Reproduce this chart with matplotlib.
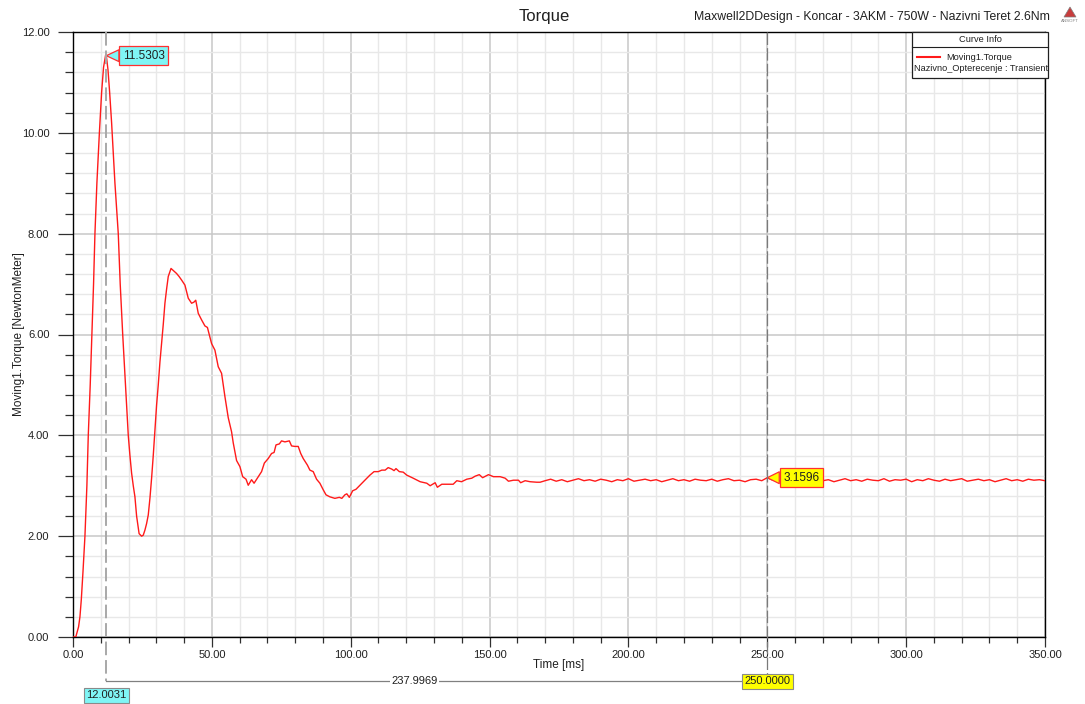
import numpy as np
import matplotlib
matplotlib.use('Agg')
import matplotlib.pyplot as plt
from matplotlib.ticker import MultipleLocator, FormatStrFormatter
from matplotlib.transforms import blended_transform_factory
from matplotlib.lines import Line2D
from matplotlib.patches import Rectangle, Polygon

plt.rcParams['font.family'] = ['Liberation Sans', 'DejaVu Sans']

# ---------------- data (time in ms, torque in N*m) ----------------
t_rise1 = [0, 1.0, 2.0, 2.5, 3.0, 3.6, 4.3, 5.0, 5.5, 6.2, 6.8, 7.4, 7.9, 8.6, 9.5, 10.3, 11.0, 11.8, 12.0]
T_rise1 = [0, 0.0, 0.2, 0.4, 0.75, 1.3, 2.0, 3.0, 4.0, 5.0, 6.0, 7.0, 8.0, 9.0, 10.0, 10.8, 11.3, 11.56, 11.53]

t_fall1 = [12.6, 13.2, 13.9, 14.5, 15.1, 15.7, 16.3, 17.0, 17.9, 18.6, 19.1, 19.9, 20.5, 21.1, 21.7, 22.3, 22.9, 23.8, 24.7]
T_fall1 = [11.25, 10.8, 10.2, 9.6, 9.0, 8.5, 8.0, 7.0, 6.0, 5.3, 4.8, 4.0, 3.6, 3.25, 3.0, 2.78, 2.4, 2.05, 2.0]

t_rise2 = [25.3, 25.9, 26.5, 27.1, 27.7, 28.3, 28.9, 29.5, 30.1, 30.7, 31.3, 31.9, 32.5, 33.1, 33.7, 34.3, 35.3]
T_rise2 = [2.02, 2.12, 2.25, 2.42, 2.75, 3.15, 3.6, 4.1, 4.6, 5.0, 5.45, 5.82, 6.2, 6.62, 6.9, 7.15, 7.31]

t_fall2 = [36.3, 37.3, 38.2, 39.1, 40.3, 41.5, 42.7, 43.5, 44.2, 45.1, 46.3, 47.5, 48.4, 49.9, 51.1, 52.3,
           53.5, 54.7, 55.9, 57.1, 57.7, 58.9, 60.1, 61.1, 62.3, 63.1, 64.3, 65.2, 66.7, 67.9, 68.9, 70.3]
T_fall2 = [7.26, 7.21, 7.15, 7.08, 6.98, 6.72, 6.62, 6.64, 6.68, 6.42, 6.29, 6.17, 6.14, 5.82, 5.69, 5.36,
           5.23, 4.77, 4.35, 4.07, 3.85, 3.50, 3.38, 3.18, 3.13, 3.01, 3.12, 3.05, 3.18, 3.28, 3.45, 3.54]

t_osc = [71.5, 72.4, 73.1, 74.3, 75.1, 76.3, 77.9, 78.7, 79.9, 81.1, 82.0, 82.9, 84.4, 85.3, 86.5, 87.7,
         88.9, 90.1, 91.1, 92.5, 94.3, 95.9, 96.8, 97.9, 98.6, 99.5, 100.7, 101.9, 103.3, 105.1, 106.9,
         108.4, 109.9, 111.2, 112.4, 113.5, 114.8, 115.6, 116.3, 117.5, 118.9, 120.2, 122.5]
T_osc = [3.64, 3.66, 3.81, 3.83, 3.89, 3.87, 3.89, 3.79, 3.78, 3.78, 3.64, 3.54, 3.41, 3.31, 3.28, 3.13,
         3.05, 2.92, 2.82, 2.78, 2.75, 2.77, 2.75, 2.82, 2.84, 2.77, 2.90, 2.93, 3.01, 3.11, 3.21,
         3.28, 3.28, 3.31, 3.31, 3.36, 3.33, 3.30, 3.34, 3.28, 3.27, 3.21, 3.15]

t_settle = [125.0, 127.4, 128.6, 130.4, 131.2, 132.8, 134.6, 136.9, 138.2, 139.9, 141.8, 143.6, 144.8,
            146.3, 147.5, 149.6, 151.4, 153.8, 155.6, 156.8, 158.6, 160.4, 161.2, 162.8, 164.6, 167.0, 168.2]
T_settle = [3.08, 3.05, 3.00, 3.06, 2.97, 3.03, 3.03, 3.03, 3.10, 3.08, 3.13, 3.15, 3.19,
            3.22, 3.16, 3.22, 3.18, 3.18, 3.15, 3.09, 3.11, 3.11, 3.06, 3.10, 3.08, 3.07, 3.07]

t_tail = list(np.arange(170, 351, 2))
T_tail = [3.10, 3.13, 3.09, 3.12, 3.08, 3.11, 3.14, 3.10, 3.12, 3.09,
          3.13, 3.11, 3.08, 3.12, 3.10, 3.14, 3.09, 3.11, 3.13, 3.10,
          3.12, 3.08, 3.11, 3.14, 3.10, 3.12, 3.09, 3.13, 3.11, 3.10,
          3.13, 3.09, 3.12, 3.14, 3.10, 3.11, 3.08, 3.12, 3.13, 3.10,
          3.16, 3.11, 3.09, 3.13, 3.10, 3.12, 3.14, 3.09, 3.11, 3.13,
          3.10, 3.12, 3.08, 3.11, 3.14, 3.10, 3.12, 3.09, 3.13, 3.11,
          3.10, 3.14, 3.09, 3.12, 3.11, 3.13, 3.08, 3.12, 3.10, 3.14,
          3.11, 3.09, 3.13, 3.10, 3.12, 3.14, 3.09, 3.11, 3.13, 3.10,
          3.12, 3.08, 3.11, 3.14, 3.10, 3.12, 3.09, 3.13, 3.11, 3.12,
          3.10]

time_ms = np.array(t_rise1 + t_fall1 + t_rise2 + t_fall2 + t_osc + t_settle + t_tail, dtype=float)
torque = np.array(T_rise1 + T_fall1 + T_rise2 + T_fall2 + T_osc + T_settle + T_tail, dtype=float)

m1_time, m1_value = 12.0031, 11.5303
m2_time, m2_value = 250.0, 3.1596
delta_time = 237.9969

title = "Torque"
subtitle = "Maxwell2DDesign - Koncar - 3AKM - 750W - Nazivni Teret 2.6Nm"
x_label = "Time [ms]"
y_label = "Moving1.Torque [NewtonMeter]"
legend_title = "Curve Info"
legend_curve = "Moving1.Torque"
legend_setup = "Nazivno_Opterecenje : Transient"

# ---------------- figure ----------------
W, H = 1085, 704
fig = plt.figure(figsize=(W / 100, H / 100), dpi=100)
fig.patch.set_facecolor('white')

def fx(px):
    return px / W

def fy(py):
    return 1 - py / H

ax = fig.add_axes([fx(73), fy(637), fx(1045) - fx(73), fy(32) - fy(637)])
ax.set_xlim(0, 350)
ax.set_ylim(0, 12)

ax.xaxis.set_major_locator(MultipleLocator(50))
ax.xaxis.set_minor_locator(MultipleLocator(10))
ax.yaxis.set_major_locator(MultipleLocator(2))
ax.yaxis.set_minor_locator(MultipleLocator(0.4))
ax.xaxis.set_major_formatter(FormatStrFormatter('%.2f'))
ax.yaxis.set_major_formatter(FormatStrFormatter('%.2f'))

ax.grid(which='major', color='#c8c8c8', linewidth=1.1, zorder=0)
ax.grid(which='minor', color='#e8e8e8', linewidth=1.0, zorder=0)
ax.set_axisbelow(True)

ax.tick_params(axis='y', which='major', direction='out', length=11, width=0.9, color='#303030',
               labelsize=8, pad=6, labelcolor='#202020')
ax.tick_params(axis='y', which='minor', direction='out', length=6, width=0.9, color='#303030')
ax.tick_params(axis='x', which='major', direction='out', length=7, width=0.9, color='#303030',
               labelsize=8, pad=2, labelcolor='#202020')
ax.tick_params(axis='x', which='minor', direction='out', length=4.5, width=0.9, color='#303030')

for s in ax.spines.values():
    s.set_color('black')
    s.set_linewidth(1.0)

ax.plot(time_ms, torque, color='#ff1a1a', linewidth=1.0, zorder=3)

ax.set_xlabel(x_label, fontsize=8.5, color='#202020')
ax.xaxis.set_label_coords(0.5, -0.036)
ax.set_ylabel(y_label, fontsize=8.5, color='#202020')
ax.yaxis.set_label_coords(-0.049, 0.5)

# marker lines (x in data, y in figure)
btr = blended_transform_factory(ax.transData, fig.transFigure)
l1 = Line2D([m1_time, m1_time], [fy(32), fy(681)], transform=btr, color='#a8a8a8',
            linewidth=1.4, linestyle=(0, (7, 2.5)), clip_on=False, zorder=2)
l2 = Line2D([m2_time, m2_time], [fy(32), fy(674)], transform=btr, color='#7a7a7a',
            linewidth=0.9, linestyle=(0, (10, 2.5)), clip_on=False, zorder=2)
l3 = Line2D([m1_time, m2_time], [fy(681), fy(681)], transform=btr, color='#808080',
            linewidth=0.9, clip_on=False, zorder=2)
for ln in (l1, l2, l3):
    fig.add_artist(ln)

fig.text(123.0, fy(681), f"{delta_time:.4f}", transform=btr, ha='center', va='center',
         fontsize=8, color='#202020',
         bbox=dict(boxstyle='square,pad=0.15', fc='white', ec='none'), zorder=4)
fig.text(m1_time, fy(695.5), f"{m1_time:.4f}", transform=btr, ha='center', va='center',
         fontsize=8, color='#202020',
         bbox=dict(boxstyle='square,pad=0.2', fc='#7ff5f5', ec='#8a8a8a', lw=0.8), zorder=4)
fig.text(m2_time, fy(681.5), f"{m2_time:.4f}", transform=btr, ha='center', va='center',
         fontsize=8, color='#202020',
         bbox=dict(boxstyle='square,pad=0.2', fc='#ffff00', ec='#8a8a8a', lw=0.8), zorder=4)

# value callouts
ax.annotate(f"{m1_value:.4f}", xy=(m1_time, m1_value), xytext=(27, 0), textcoords='offset points',
            ha='center', va='center', fontsize=8.5, color='#202020', zorder=6,
            bbox=dict(boxstyle='square,pad=0.3', fc='#7ff5f5', ec='#ff3030', lw=0.9),
            arrowprops=dict(arrowstyle='wedge,tail_width=1.0,shrink_factor=0.5', fc='#7ff5f5',
                            ec='#ff3030', lw=0.9, shrinkA=0, shrinkB=0))
ax.annotate(f"{m2_value:.4f}", xy=(m2_time, m2_value), xytext=(24.5, 0), textcoords='offset points',
            ha='center', va='center', fontsize=8.5, color='#202020', zorder=6,
            bbox=dict(boxstyle='square,pad=0.3', fc='#ffff00', ec='#ff3030', lw=0.9),
            arrowprops=dict(arrowstyle='wedge,tail_width=1.0,shrink_factor=0.5', fc='#ffff00',
                            ec='#ff3030', lw=0.9, shrinkA=0, shrinkB=0))

# titles
fig.text(fx(544), fy(17), title, ha='center', va='center', fontsize=12, color='#202020')
fig.text(fx(1050), fy(17), subtitle, ha='right', va='center', fontsize=8.8, color='#202020')

# ANSOFT logo
logo = Polygon([[fx(1064), fy(17)], [fx(1076), fy(17)], [fx(1070), fy(7)]], closed=True,
               fc='#c83c3c', ec='#808080', lw=0.5, transform=fig.transFigure, zorder=5)
fig.add_artist(logo)
fig.text(fx(1070), fy(20.5), "ANSOFT", ha='center', va='center', fontsize=3.2, color='#808080')

# legend box ("Curve Info")
lb = Rectangle((fx(912), fy(78)), fx(1048) - fx(912), fy(32) - fy(78), transform=fig.transFigure,
               fc='white', ec='#202020', lw=0.9, zorder=5)
fig.add_artist(lb)
fig.add_artist(Line2D([fx(912), fx(1048)], [fy(47), fy(47)], transform=fig.transFigure,
                      color='#202020', lw=0.8, zorder=6))
fig.text(fx(980), fy(39.5), legend_title, ha='center', va='center', fontsize=6.7, color='#202020', zorder=6)
fig.add_artist(Line2D([fx(917), fx(940)], [fy(57), fy(57)], transform=fig.transFigure,
                      color='#ff1a1a', lw=1.5, zorder=6))
fig.text(fx(946), fy(57), legend_curve, ha='left', va='center', fontsize=6.7, color='#202020', zorder=6)
fig.text(fx(914), fy(68.5), legend_setup, ha='left', va='center', fontsize=6.6, color='#202020', zorder=6)

fig.savefig('out.png', dpi=100, facecolor='white')
